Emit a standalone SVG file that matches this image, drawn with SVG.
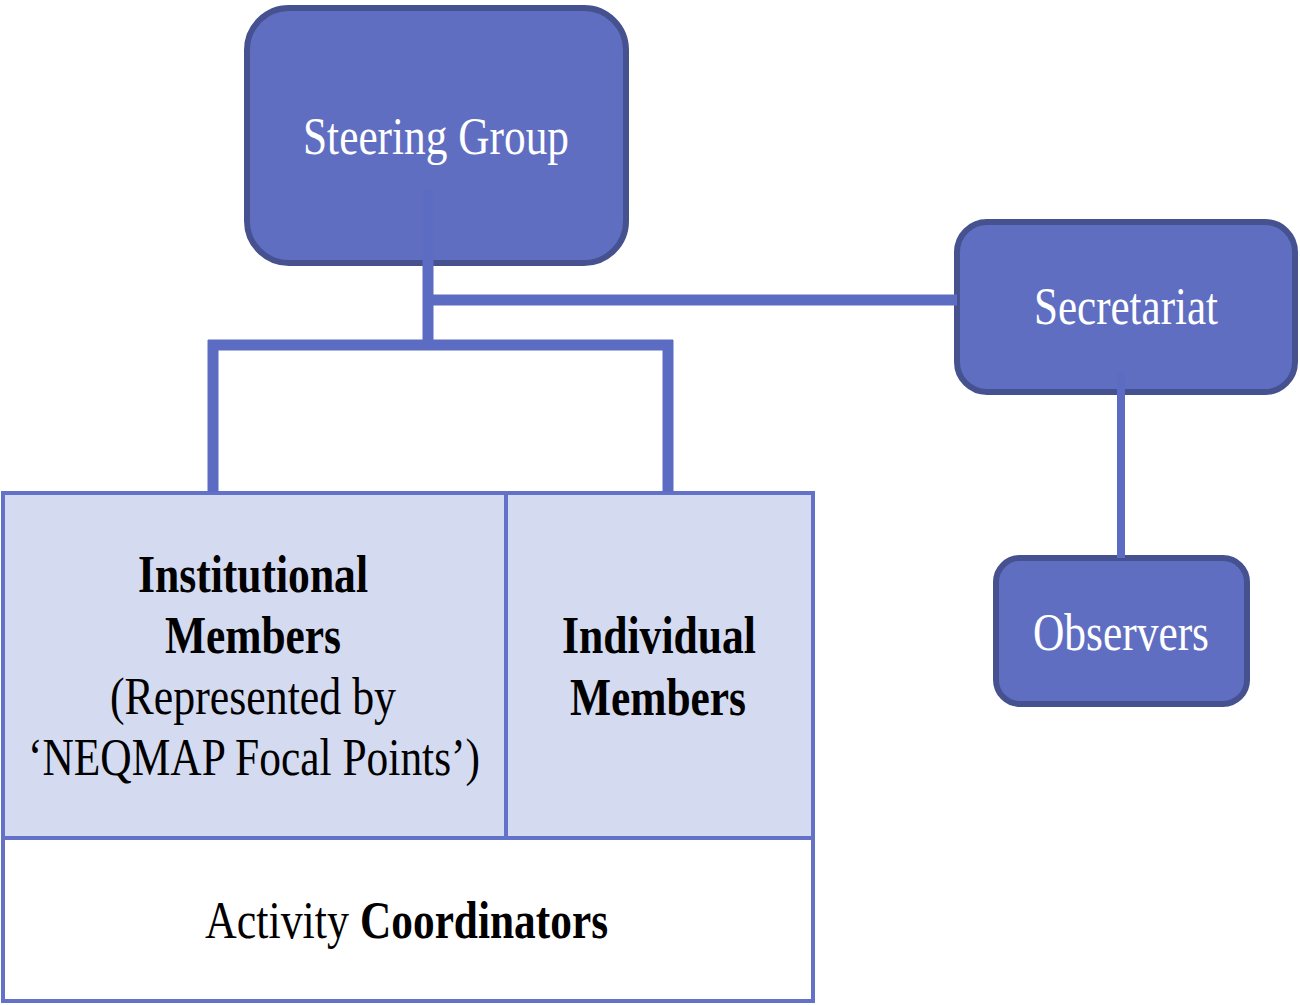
<svg xmlns="http://www.w3.org/2000/svg" width="1300" height="1005" viewBox="0 0 1300 1005">
<style>
.box{fill:#606EC2;stroke:#46528F;stroke-width:6}
.con{stroke:#5D6CC3;fill:none;stroke-linecap:butt}
.wt{font-family:"Liberation Serif","Times New Roman",serif;fill:#ffffff;font-size:52px;text-anchor:start}
.bt{font-family:"Liberation Serif","Times New Roman",serif;fill:#000000;font-size:52px}
.tbl{stroke:#6471C8;stroke-width:4}
</style>
<rect width="1300" height="1005" fill="#ffffff"/>
<g id="steering-group">
<rect class="box" x="247" y="8" width="379" height="255" rx="42"/>
<text class="wt" x="303" y="154" textLength="266" lengthAdjust="spacingAndGlyphs">Steering Group</text>
</g>
<g id="secretariat">
<rect class="box" x="957" y="222" width="338" height="170" rx="30"/>
<text class="wt" x="1034" y="324" textLength="184" lengthAdjust="spacingAndGlyphs">Secretariat</text>
</g>
<g id="observers">
<rect class="box" x="996" y="558" width="251" height="146" rx="24"/>
<text class="wt" x="1033" y="650" textLength="176" lengthAdjust="spacingAndGlyphs">Observers</text>
</g>
<g id="members-table">
<rect class="tbl" x="3" y="493" width="810" height="345" fill="#D4DAEF"/>
<rect class="tbl" x="3" y="838" width="810" height="163" fill="#ffffff"/>
<line class="tbl" x1="506" y1="493" x2="506" y2="838"/>
</g>
<g id="institutional-members">
<text class="bt" font-weight="bold" x="138" y="592" textLength="230" lengthAdjust="spacingAndGlyphs">Institutional</text>
<text class="bt" font-weight="bold" x="165" y="653" textLength="176" lengthAdjust="spacingAndGlyphs">Members</text>
<text class="bt" x="110" y="714" textLength="286" lengthAdjust="spacingAndGlyphs">(Represented by</text>
<text class="bt" x="28" y="775" textLength="452" lengthAdjust="spacingAndGlyphs">‘NEQMAP Focal Points’)</text>
</g>
<g id="individual-members">
<text class="bt" font-weight="bold" x="562" y="653" textLength="194" lengthAdjust="spacingAndGlyphs">Individual</text>
<text class="bt" font-weight="bold" x="570" y="715" textLength="176" lengthAdjust="spacingAndGlyphs">Members</text>
</g>
<g id="activity-coordinators">
<text class="bt" x="205" y="938" textLength="144" lengthAdjust="spacingAndGlyphs">Activity</text>
<text class="bt" font-weight="bold" x="360" y="938" textLength="248" lengthAdjust="spacingAndGlyphs">Coordinators</text>
</g>
<g id="connectors">
<line class="con" stroke-width="11" x1="428" y1="189" x2="428" y2="346"/>
<line class="con" stroke-width="11" x1="428" y1="300" x2="957" y2="300"/>
<line class="con" stroke-width="11" x1="208" y1="345" x2="673" y2="345"/>
<line class="con" stroke-width="11" x1="213" y1="340" x2="213" y2="492"/>
<line class="con" stroke-width="11" x1="668" y1="340" x2="668" y2="492"/>
<line class="con" stroke-width="8" x1="1121" y1="373" x2="1121" y2="558"/>
</g>
</svg>
